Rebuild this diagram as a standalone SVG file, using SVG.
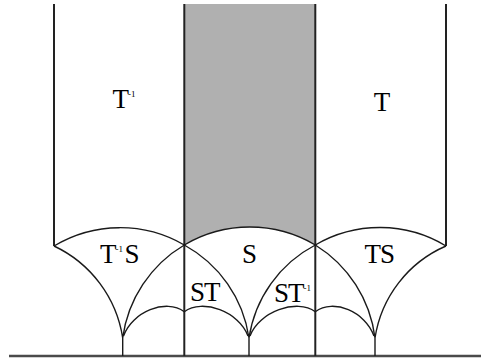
<svg xmlns="http://www.w3.org/2000/svg" width="481" height="358" viewBox="0 0 481 358">
<style>
.ln{fill:none;stroke:#1a1a1a;stroke-width:1.4}
.v{fill:none;stroke:#222;stroke-width:2}
.base{fill:none;stroke:#4a4a4a;stroke-width:2.5}
text{font-family:"Liberation Serif","Times New Roman",serif;font-size:27px;fill:#000;letter-spacing:-1px}
.sup{font-size:9px;letter-spacing:0}
</style>
<rect width="481" height="358" fill="#fff"/>
<g id="region-S-shade"><path d="M184.3,4 H315.3 V245 A128.5 128.5 0 0 0 184.3 245 Z" fill="#b0b0b0"/></g>
<g id="connectors">
<path class="base" d="M9,356 H481"/>
<path class="v" d="M54,4 V246 M184.3,4 V356 M315.3,4 V356 M446,4 V246"/>
<path class="ln" d="M54,246 A128 128 0 0 1 184.3,245 A128.5 128.5 0 0 1 315.3,245 A128 128 0 0 1 446,246"/>
<path class="ln" d="M54,246 A122 122 0 0 1 122.7,338 M184.3,245 A128 128 0 0 0 122.7,338 M184.3,245 A127 127 0 0 1 249,338 M315.3,245 A126 126 0 0 0 249,338 M315.3,245 A128 128 0 0 1 375,338 M446,246 A120 120 0 0 0 375,338"/>
<path class="ln" d="M122.7,338 V356 M249,338 V356 M375,338 V356"/>
<path class="ln" d="M123.5,336 C132,312 166,298 184.3,311.7 C202.6,298 239.5,312 248,336 M250,336 C258.5,312 297,298 315.3,311.7 C333.6,298 365.5,312 374,336"/>
</g>
<g id="label-Tinv"><text x="112.5" y="108">T<tspan class="sup" dy="-11">-1</tspan></text></g>
<g id="label-T"><text x="373.8" y="111">T</text></g>
<g id="label-TinvS"><text x="100" y="263">T<tspan class="sup" dy="-11">-1</tspan><tspan x="124.5" dy="11">S</tspan></text></g>
<g id="label-S"><text x="242" y="263">S</text></g>
<g id="label-TS"><text x="364.5" y="263">TS</text></g>
<g id="label-ST"><text x="190" y="301">ST</text></g>
<g id="label-STinv"><text x="274" y="302">ST<tspan class="sup" dy="-11">-1</tspan></text></g>
</svg>
